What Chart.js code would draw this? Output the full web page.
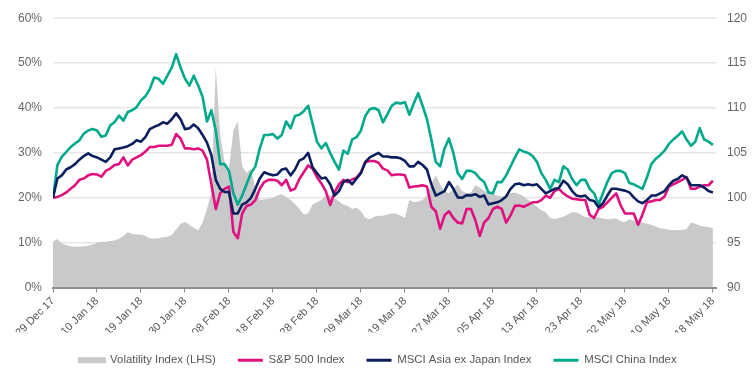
<!DOCTYPE html>
<html>
<head>
<meta charset="utf-8">
<script src="https://cdn.jsdelivr.net/npm/chart.js@4.4.0/dist/chart.umd.min.js"></script>
<style>
html,body{margin:0;padding:0;background:#ffffff;}
#wrap{width:756px;height:379px;position:relative;}
</style>
</head>
<body>
<div id="wrap"><canvas id="c" width="756" height="379"></canvas></div>
<script>
// Tick labels along the date axis (one every 10 observations)
const tickLabels = ['29 Dec 17','10 Jan 18','19 Jan 18','30 Jan 18','08 Feb 18','18 Feb 18','28 Feb 18','09 Mar 18','19 Mar 18','27 Mar 18','05 Apr 18','13 Apr 18','23 Apr 18','02 May 18','10 May 18','18 May 18'];
const pointsPerTick = 10;

// Volatility Index (LHS, %)
const volatility = [10.2,10.8,9.8,9.5,9.2,9.1,9.1,9.2,9.3,9.6,
10,10.2,10.2,10.4,10.5,10.9,11.5,12.3,12,11.8,
11.8,11.5,11,10.9,11,11.2,11.3,11.7,13,14.2,
14.6,14,13.3,12.8,14.5,17.5,21,49,34,28,
26.5,35,37,27,25.5,26.5,22,19.5,19.7,19.8,
20,20.5,20.8,20.2,19.5,18.6,17.5,16.3,16.5,18.5,
19,19.5,20.5,20.5,20,19.2,18.5,18.2,17.5,17.8,
17,15.5,15.2,15.8,16,16,16.3,16.5,16.5,16,
15.5,19.5,19,19.2,19.5,20.5,23,25,23,21.5,
21,22,23,21.5,21,21.2,22.8,22.3,21.5,21.3,
20.8,20.5,20.3,20.5,21,21.2,20.8,20.3,19.5,18.8,
18,17.3,16.8,15.5,15.3,15.5,15.8,16.3,16.8,16.8,
16.2,15.7,15.6,15.5,15.6,15.4,15.2,15.3,15.4,14.8,
14.6,15.2,14.9,14.7,14.5,14.2,14,13.6,13.2,13.1,
12.9,12.8,12.8,12.9,13,14.5,14.2,13.8,13.6,13.5,
13.2];

// S&P 500 Index (RHS, rebased to 100)
const sp500 = [100,100.1,100.3,100.6,101,101.4,102,102.15,102.5,102.65,
102.6,102.35,103,103.25,103.65,103.75,104.5,103.6,104.25,104.5,
104.75,105.15,105.65,105.65,105.8,105.8,105.8,105.9,107.1,106.6,
105.5,105.5,105.4,105.5,105.25,104.25,101.5,98.75,100.5,101,
101.25,96.2,95.5,98.25,99.1,99.25,99.75,101,101.75,102,
102,101.9,101.4,102,100.8,101,102.1,102.85,103.6,103.25,
102.3,101.6,100.75,99.2,100.6,101.5,102,101.75,102.05,102.25,
102.85,103.95,104.1,104.1,103.9,103.25,103.05,102.5,102.6,102.6,
102.5,101.15,101.25,101.3,101.4,101.25,99,98.5,96.55,98.05,
98.5,97.75,97.25,97.15,98.75,98.75,97.5,95.75,97.25,97.75,
98.75,99,98.75,97.25,98.05,99.1,99.15,99,99.25,99.5,
99.5,99.75,100.25,100,100.75,101,100.5,100.15,99.9,99.85,
99.75,99.75,98.1,97.75,98.75,99,99.5,100,100.5,99.2,
98.25,98.25,98.25,97,98.15,99.5,99.6,99.75,99.75,100.15,
101.25,101.5,101.75,102,102.3,101,101,101.25,101.4,101.4,
101.9];

// MSCI Asia ex Japan Index (RHS, rebased to 100)
const asiaExJapan = [100,102.15,102.5,103.15,103.4,103.75,104.25,104.65,104.95,104.65,
104.5,104.25,104,104.5,105.4,105.5,105.6,105.75,106,106.4,
106.25,106.75,107.65,107.9,108.1,108.4,108.25,108.75,109.4,108.75,
107.65,107.75,108.15,107.75,107,106.15,104.75,102,101,100.65,
100.65,98.25,98.25,99.25,99.5,100,101,102.15,102.85,102.65,
102.5,102.6,103.15,103.25,102.5,103.15,104.15,104.4,105,103.4,
102.75,102.15,102.25,101.5,100.25,100.75,101.75,102,101.5,102.15,
102.75,104,104.5,104.75,105,104.6,104.6,104.5,104.5,104.4,
104.1,103.5,103.5,104,103.65,103.15,101.5,100.25,100.5,100.75,
101.75,101,100.05,100,100.3,100.25,100.4,100.1,100.25,99.25,
99.4,99.5,99.75,100.15,101,101.5,101.6,101.4,101.5,101.4,
101.5,101,100.5,100.75,101,101.1,101.9,101.5,100.75,100.25,
100.15,100.25,99.75,99.65,98.95,99.4,100.25,101,101,100.9,
100.8,100.6,100.05,99.6,99.4,99.75,100.25,100.25,100.5,100.75,
101.4,101.9,102.1,102.5,102.25,101.4,101.4,101.4,101.15,100.75,
100.6];

// MSCI China Index (RHS, rebased to 100)
const china = [100,103.65,104.55,105.1,105.65,106.05,106.4,107.15,107.5,107.65,
107.5,106.8,106.95,108.05,108.45,109.15,108.6,109.55,109.75,110.1,
110.85,111.3,112.1,113.4,113.25,112.7,113.6,114.5,116,114.5,
113.25,112.5,113.6,112.5,111.25,108.5,109.75,107.5,103.75,103.75,
103,100.5,99.25,100.25,101.5,102.75,103.5,105.5,107,107,
107.1,106.6,107,108.5,107.75,109.1,109.25,109.65,110.25,108.25,
106.25,105.5,106.1,105,104,103.15,105.25,104.9,106.5,106.75,
107.5,109.15,109.85,110,109.75,108.4,109.3,110.25,110.6,110.5,
110.65,109.25,110.5,111.65,110.25,108.75,106.5,104,103.5,105.5,
106.6,105,102.75,102.1,103,103,102.75,102.15,101.75,100.6,
100.5,101.75,101.75,102.5,103.5,104.5,105.4,105.15,105,104.65,
104,102.75,102,101,102,101.75,103.5,103.15,102.1,101.4,
102,102,101,100.5,99.25,100.5,101.75,102.75,103,103,
102.75,101.65,101.5,101.25,101,102.25,103.75,104.35,104.75,105.25,
106,106.5,106.9,107.4,106.5,105.8,106.25,107.75,106.5,106.25,
105.9];

const seriesNames = ['Volatility Index (LHS)','S&P 500 Index','MSCI Asia ex Japan Index','MSCI China Index'];
const seriesColors = ['#c8c9cb','#e0107e','#0b1f5e','#00a98c'];

const toXY = arr => arr.map((v, i) => ({x: i, y: v}));
const fontFamily = '"Liberation Sans", Arial, Helvetica, sans-serif';

const lineCommon = {type: 'line', fill: false, pointRadius: 0, pointHoverRadius: 0, borderWidth: 2.6, tension: 0, borderJoinStyle: 'round', yAxisID: 'y2'};

new Chart(document.getElementById('c'), {
  data: {
    datasets: [
      {type: 'line', label: seriesNames[0], data: toXY(volatility), yAxisID: 'y', fill: 'origin',
       backgroundColor: seriesColors[0], borderColor: 'rgba(0,0,0,0)', borderWidth: 0, pointRadius: 0, pointHoverRadius: 0, order: 4},
      Object.assign({}, lineCommon, {label: seriesNames[1], data: toXY(sp500), borderColor: seriesColors[1], backgroundColor: seriesColors[1], order: 2}),
      Object.assign({}, lineCommon, {label: seriesNames[2], data: toXY(asiaExJapan), borderColor: seriesColors[2], backgroundColor: seriesColors[2], order: 1}),
      Object.assign({}, lineCommon, {label: seriesNames[3], data: toXY(china), borderColor: seriesColors[3], backgroundColor: seriesColors[3], order: 3})
    ]
  },
  options: {
    responsive: false,
    animation: false,
    devicePixelRatio: 1,
    layout: {padding: {top: 15, bottom: 3, left: 0, right: 0}},
    plugins: {
      tooltip: {enabled: false},
      legend: {
        position: 'bottom',
        labels: {
          font: {family: fontFamily, size: 11.4},
          color: '#555555',
          boxWidth: 25,
          boxHeight: 3,
          padding: 22,
          sort: (a, b) => a.datasetIndex - b.datasetIndex,
          generateLabels: (chart) => {
            const items = Chart.defaults.plugins.legend.labels.generateLabels(chart);
            items.forEach(it => {
              const c = seriesColors[it.datasetIndex];
              it.fillStyle = c;
              it.strokeStyle = c;
              it.lineWidth = it.datasetIndex === 0 ? 3 : 0;
            });
            return items;
          }
        }
      }
    },
    scales: {
      x: {
        type: 'linear', position: 'bottom', min: 0, max: 150.7,
        ticks: {
          stepSize: pointsPerTick, autoSkip: false, includeBounds: false,
          minRotation: 45, maxRotation: 45, padding: 2,
          font: {family: fontFamily, size: 11}, color: '#555555',
          callback: v => (v % pointsPerTick === 0 ? tickLabels[v / pointsPerTick] : '')
        },
        grid: {drawOnChartArea: false, drawTicks: true, tickLength: 5, color: '#8c8c8c', lineWidth: 1},
        border: {display: true, color: '#8c8c8c', width: 2},
        afterFit: s => { s.height = 45; }
      },
      y: {
        position: 'left', min: 0, max: 60,
        ticks: {stepSize: 10, padding: 11, font: {family: fontFamily, size: 12}, color: '#666666', callback: v => v + '%'},
        grid: {color: '#e6e6e6', lineWidth: 1.5, drawTicks: false},
        border: {display: false},
        afterFit: s => { s.width = 53; }
      },
      y2: {
        position: 'right', min: 90, max: 120,
        ticks: {stepSize: 5, padding: 11, font: {family: fontFamily, size: 12}, color: '#666666'},
        grid: {display: false, drawTicks: false},
        border: {display: false},
        afterFit: s => { s.width = 40; }
      }
    }
  }
});
</script>
</body>
</html>
